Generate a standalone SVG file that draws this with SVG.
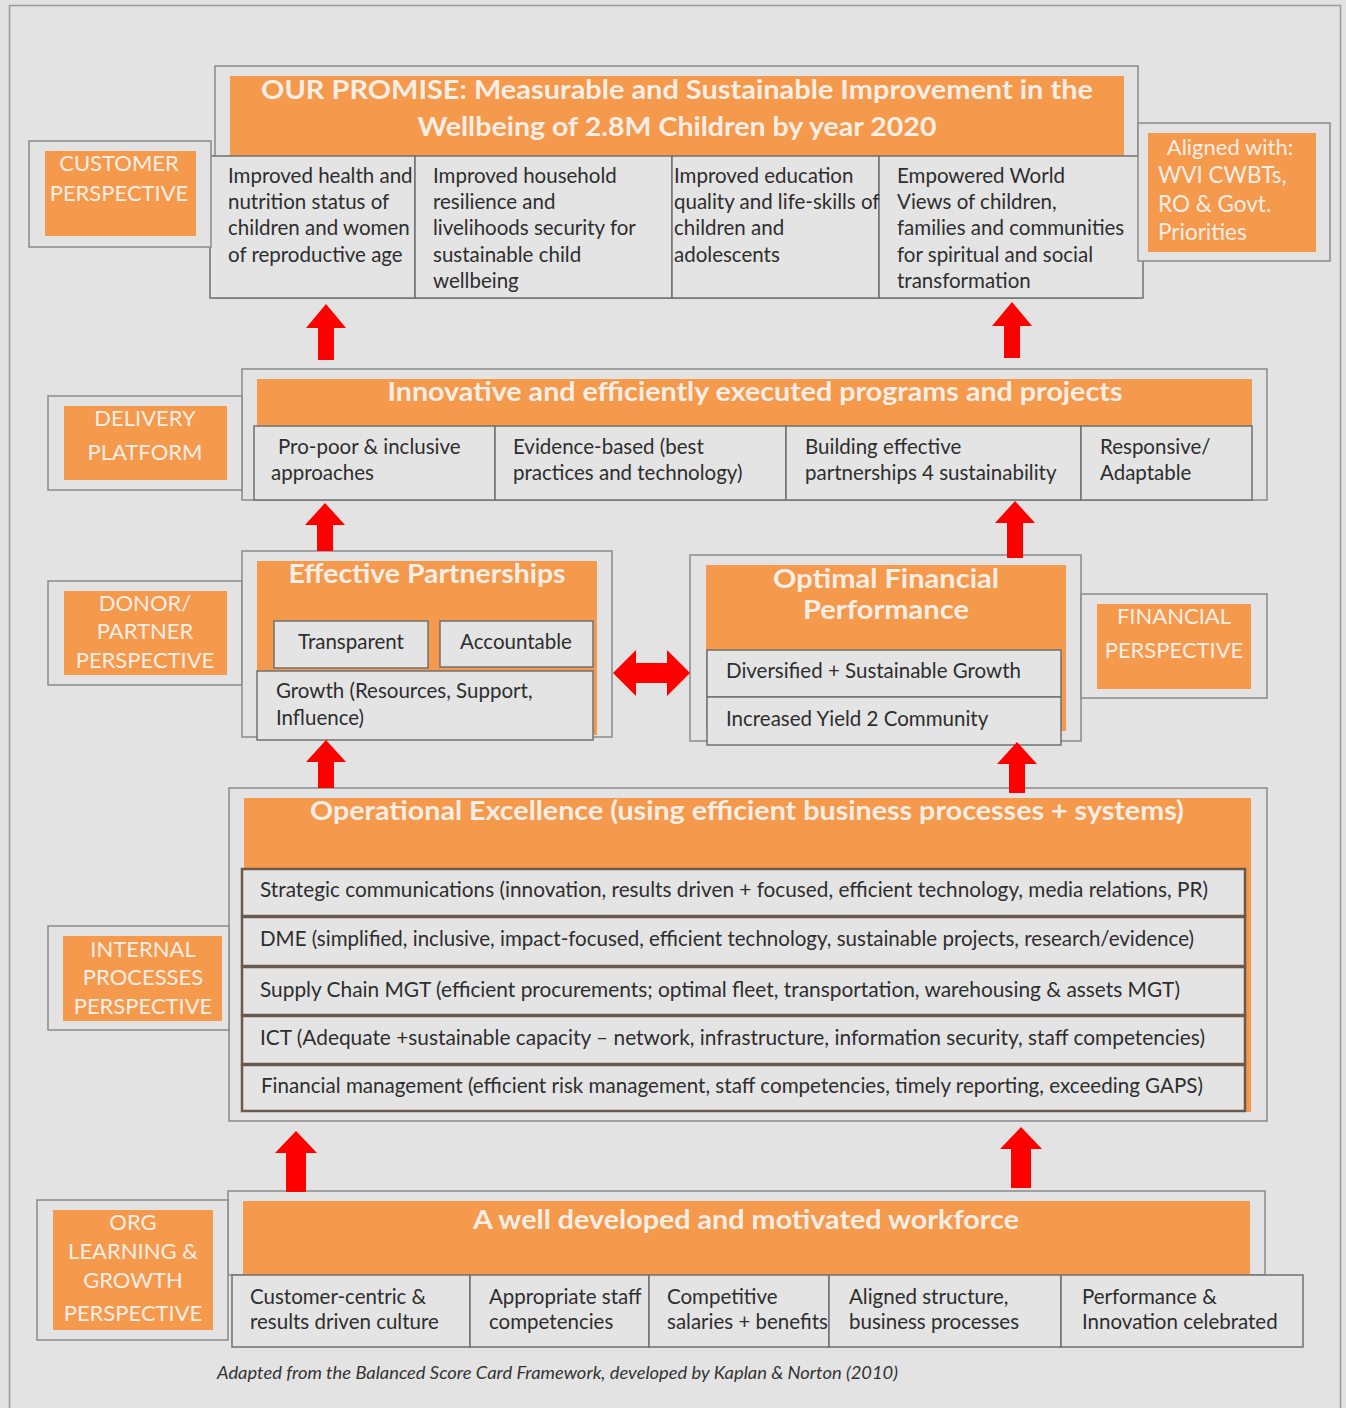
<svg xmlns="http://www.w3.org/2000/svg" width="1346" height="1408" viewBox="0 0 1346 1408">
<style>
.bg{fill:#e2e2e2}
.frame{fill:#e3e3e3;stroke:#8a8a8a;stroke-width:1.5}
.org{fill:#f5994c}
.cell{fill:#e4e4e4;stroke:#707070;stroke-width:1.5}
.row{fill:#e4e4e4;stroke:#6b5a4b;stroke-width:2.5}
.t{font-family:Lato,"Open Sans",sans-serif;font-size:20.5px;fill:#2e2e2e}
.h{font-family:Lato,"Open Sans",sans-serif;font-weight:bold;font-size:26px;fill:#f7eee6;text-anchor:middle}
.lab{font-family:Lato,"Open Sans",sans-serif;font-size:22px;fill:#f7eee6;text-anchor:middle}
.lab2{font-family:Lato,"Open Sans",sans-serif;font-size:22.5px;fill:#f7eee6}
.foot{font-family:Lato,"Open Sans",sans-serif;font-style:italic;font-size:18px;fill:#333}
.arr{fill:#ff0000}
</style>
<rect class="bg" x="0" y="0" width="1346" height="1408"/>
<rect x="9.5" y="5.5" width="1331" height="1410" fill="#e3e3e3" stroke="#9a9a9a" stroke-width="1.5"/>

<g id="promise">
  <rect class="frame" x="215" y="66" width="923" height="232"/>
  <rect class="org" x="230" y="76" width="894" height="80"/>
  <text class="h" x="677" y="99" textLength="832" lengthAdjust="spacingAndGlyphs">OUR PROMISE: Measurable and Sustainable Improvement in the</text>
  <text class="h" x="677" y="136" textLength="519" lengthAdjust="spacingAndGlyphs">Wellbeing of 2.8M Children by year 2020</text>
  <rect class="cell" x="210" y="156" width="205" height="142"/>
  <rect class="cell" x="415" y="156" width="257" height="142"/>
  <rect class="cell" x="672" y="156" width="207" height="142"/>
  <rect class="cell" x="879" y="156" width="264" height="142"/>
  <text class="t"><tspan x="228" y="183">Improved health and</tspan><tspan x="228" y="209">nutrition status of</tspan><tspan x="228" y="235">children and women</tspan><tspan x="228" y="262">of reproductive age</tspan></text>
  <text class="t"><tspan x="433" y="183">Improved household</tspan><tspan x="433" y="209">resilience and</tspan><tspan x="433" y="235">livelihoods security for</tspan><tspan x="433" y="262">sustainable child</tspan><tspan x="433" y="288">wellbeing</tspan></text>
  <text class="t"><tspan x="674" y="183">Improved education</tspan><tspan x="674" y="209">quality and life-skills of</tspan><tspan x="674" y="235">children and</tspan><tspan x="674" y="262">adolescents</tspan></text>
  <text class="t"><tspan x="897" y="183">Empowered World</tspan><tspan x="897" y="209">Views of children,</tspan><tspan x="897" y="235">families and communities</tspan><tspan x="897" y="262">for spiritual and social</tspan><tspan x="897" y="288">transformation</tspan></text>
</g>

<g id="customer-perspective">
  <rect class="frame" x="29" y="141" width="182" height="106"/>
  <rect class="org" x="45" y="151" width="151" height="85"/>
  <text class="lab" x="119" y="171">CUSTOMER</text>
  <text class="lab" x="119" y="201">PERSPECTIVE</text>
</g>

<g id="aligned">
  <rect class="frame" x="1138" y="123" width="192" height="138"/>
  <rect class="org" x="1148" y="133" width="168" height="119"/>
  <text class="lab" x="1230" y="155">Aligned with:</text>
  <text class="lab2" x="1158" y="183">WVI CWBTs,</text>
  <text class="lab2" x="1158" y="212">RO &amp; Govt.</text>
  <text class="lab2" x="1158" y="240">Priorities</text>
</g>

<g id="delivery">
  <rect class="frame" x="242" y="369" width="1025" height="131"/>
  <rect class="org" x="257" y="379" width="995" height="47"/>
  <text class="h" x="755" y="401" textLength="735" lengthAdjust="spacingAndGlyphs">Innovative and efficiently executed programs and projects</text>
  <rect class="cell" x="254" y="426" width="241" height="74"/>
  <rect class="cell" x="495" y="426" width="291" height="74"/>
  <rect class="cell" x="786" y="426" width="295" height="74"/>
  <rect class="cell" x="1081" y="426" width="171" height="74"/>
  <text class="t"><tspan x="278" y="454">Pro-poor &amp; inclusive</tspan><tspan x="271" y="480">approaches</tspan></text>
  <text class="t"><tspan x="513" y="454">Evidence-based (best</tspan><tspan x="513" y="480">practices and technology)</tspan></text>
  <text class="t"><tspan x="805" y="454">Building effective</tspan><tspan x="805" y="480">partnerships 4 sustainability</tspan></text>
  <text class="t"><tspan x="1100" y="454">Responsive/</tspan><tspan x="1100" y="480">Adaptable</tspan></text>
</g>

<g id="delivery-platform">
  <rect class="frame" x="48" y="396" width="194" height="94"/>
  <rect class="org" x="64" y="406" width="163" height="74"/>
  <text class="lab" x="145" y="426">DELIVERY</text>
  <text class="lab" x="145" y="460">PLATFORM</text>
</g>

<g id="donor-partner-perspective">
  <rect class="frame" x="48" y="581" width="194" height="104"/>
  <rect class="org" x="64" y="591" width="163" height="84"/>
  <text class="lab" x="145" y="611">DONOR/</text>
  <text class="lab" x="145" y="639">PARTNER</text>
  <text class="lab" x="145" y="668">PERSPECTIVE</text>
</g>

<g id="effective-partnerships">
  <rect class="frame" x="242" y="551" width="370" height="186"/>
  <rect class="org" x="257" y="561" width="340" height="174"/>
  <text class="h" x="427" y="583" textLength="277" lengthAdjust="spacingAndGlyphs">Effective Partnerships</text>
  <rect class="cell" x="274" y="621" width="154" height="47"/>
  <rect class="cell" x="440" y="621" width="153" height="46"/>
  <text class="t" x="351" y="649" text-anchor="middle">Transparent</text>
  <text class="t" x="516" y="649" text-anchor="middle">Accountable</text>
  <rect class="cell" x="257" y="671" width="336" height="69"/>
  <text class="t"><tspan x="276" y="698">Growth (Resources, Support,</tspan><tspan x="276" y="725">Influence)</tspan></text>
</g>

<g id="optimal-financial">
  <rect class="frame" x="690" y="555" width="391" height="186"/>
  <rect class="org" x="706" y="565" width="360" height="166"/>
  <text class="h" x="886" y="588" textLength="226" lengthAdjust="spacingAndGlyphs">Optimal Financial</text>
  <text class="h" x="886" y="619" textLength="166" lengthAdjust="spacingAndGlyphs">Performance</text>
  <rect class="cell" x="707" y="650" width="354" height="47"/>
  <rect class="cell" x="707" y="697" width="354" height="48"/>
  <text class="t" x="726" y="678">Diversified + Sustainable Growth</text>
  <text class="t" x="726" y="726">Increased Yield 2 Community</text>
</g>

<g id="financial-perspective">
  <rect class="frame" x="1081" y="594" width="186" height="104"/>
  <rect class="org" x="1097" y="604" width="154" height="85"/>
  <text class="lab" x="1174" y="624">FINANCIAL</text>
  <text class="lab" x="1174" y="658">PERSPECTIVE</text>
</g>

<g id="operational-excellence">
  <rect class="frame" x="229" y="788" width="1038" height="333"/>
  <rect class="org" x="244" y="798" width="1007" height="314"/>
  <text class="h" x="747" y="820" textLength="874" lengthAdjust="spacingAndGlyphs">Operational Excellence (using efficient business processes + systems)</text>
  <rect class="row" x="242" y="869" width="1003" height="47"/>
  <rect class="row" x="242" y="917" width="1003" height="49"/>
  <rect class="row" x="242" y="967" width="1003" height="48"/>
  <rect class="row" x="242" y="1016" width="1003" height="48"/>
  <rect class="row" x="242" y="1065" width="1003" height="46"/>
  <text class="t" x="260" y="897" textLength="948" lengthAdjust="spacingAndGlyphs">Strategic communications (innovation, results driven + focused, efficient technology, media relations, PR)</text>
  <text class="t" x="260" y="946" textLength="934" lengthAdjust="spacingAndGlyphs">DME (simplified, inclusive, impact-focused, efficient technology, sustainable projects, research/evidence)</text>
  <text class="t" x="260" y="997" textLength="920" lengthAdjust="spacingAndGlyphs">Supply Chain MGT (efficient procurements; optimal fleet, transportation, warehousing &amp; assets MGT)</text>
  <text class="t" x="260" y="1045" textLength="945" lengthAdjust="spacingAndGlyphs">ICT (Adequate +sustainable capacity – network, infrastructure, information security, staff competencies)</text>
  <text class="t" x="261" y="1093" textLength="942" lengthAdjust="spacingAndGlyphs">Financial management (efficient risk management, staff competencies, timely reporting, exceeding GAPS)</text>
</g>

<g id="internal-processes-perspective">
  <rect class="frame" x="48" y="926" width="181" height="104"/>
  <rect class="org" x="63" y="936" width="159" height="85"/>
  <text class="lab" x="143" y="957">INTERNAL</text>
  <text class="lab" x="143" y="985">PROCESSES</text>
  <text class="lab" x="143" y="1014">PERSPECTIVE</text>
</g>

<g id="workforce">
  <rect class="frame" x="228" y="1191" width="1037" height="84"/>
  <rect class="org" x="243" y="1201" width="1007" height="75"/>
  <text class="h" x="746" y="1229" textLength="546" lengthAdjust="spacingAndGlyphs">A well developed and motivated workforce</text>
  <rect class="cell" x="232" y="1275" width="238" height="72"/>
  <rect class="cell" x="470" y="1275" width="179" height="72"/>
  <rect class="cell" x="649" y="1275" width="180" height="72"/>
  <rect class="cell" x="829" y="1275" width="232" height="72"/>
  <rect class="cell" x="1061" y="1275" width="242" height="72"/>
  <text class="t"><tspan x="250" y="1304">Customer-centric &amp;</tspan><tspan x="250" y="1329">results driven culture</tspan></text>
  <text class="t"><tspan x="489" y="1304">Appropriate staff</tspan><tspan x="489" y="1329">competencies</tspan></text>
  <text class="t"><tspan x="667" y="1304">Competitive</tspan><tspan x="667" y="1329">salaries + benefits</tspan></text>
  <text class="t"><tspan x="849" y="1304">Aligned structure,</tspan><tspan x="849" y="1329">business processes</tspan></text>
  <text class="t"><tspan x="1082" y="1304">Performance &amp;</tspan><tspan x="1082" y="1329">Innovation celebrated</tspan></text>
</g>

<g id="org-learning-growth-perspective">
  <rect class="frame" x="37" y="1200" width="191" height="140"/>
  <rect class="org" x="53" y="1210" width="160" height="120"/>
  <text class="lab" x="133" y="1230">ORG</text>
  <text class="lab" x="133" y="1259">LEARNING &amp;</text>
  <text class="lab" x="133" y="1288">GROWTH</text>
  <text class="lab" x="133" y="1321">PERSPECTIVE</text>
</g>

<g id="connectors">
  <polygon class="arr" points="326,304 346,328 334,328 334,360 318,360 318,328 306,328"/>
  <polygon class="arr" points="1012,302 1032,326 1020,326 1020,358 1004,358 1004,326 992,326"/>
  <polygon class="arr" points="325,503 345,525 333,525 333,551 317,551 317,525 305,525"/>
  <polygon class="arr" points="1015,501 1035,523 1023,523 1023,558 1007,558 1007,523 995,523"/>
  <polygon class="arr" points="326,740 346,762 334,762 334,788 318,788 318,762 306,762"/>
  <polygon class="arr" points="1017,742 1037,764 1025,764 1025,793 1009,793 1009,764 997,764"/>
  <polygon class="arr" points="296,1131 317,1153 306,1153 306,1192 286,1192 286,1153 275,1153"/>
  <polygon class="arr" points="1021,1127 1042,1149 1031,1149 1031,1188 1011,1188 1011,1149 1000,1149"/>
  <polygon class="arr" points="613,673 636,650 636,663 667,663 667,650 690,673 667,696 667,683 636,683 636,696"/>
</g>

<text class="foot" x="217" y="1379" textLength="681" lengthAdjust="spacingAndGlyphs">Adapted from the Balanced Score Card Framework, developed by Kaplan &amp; Norton (2010)</text>
</svg>
